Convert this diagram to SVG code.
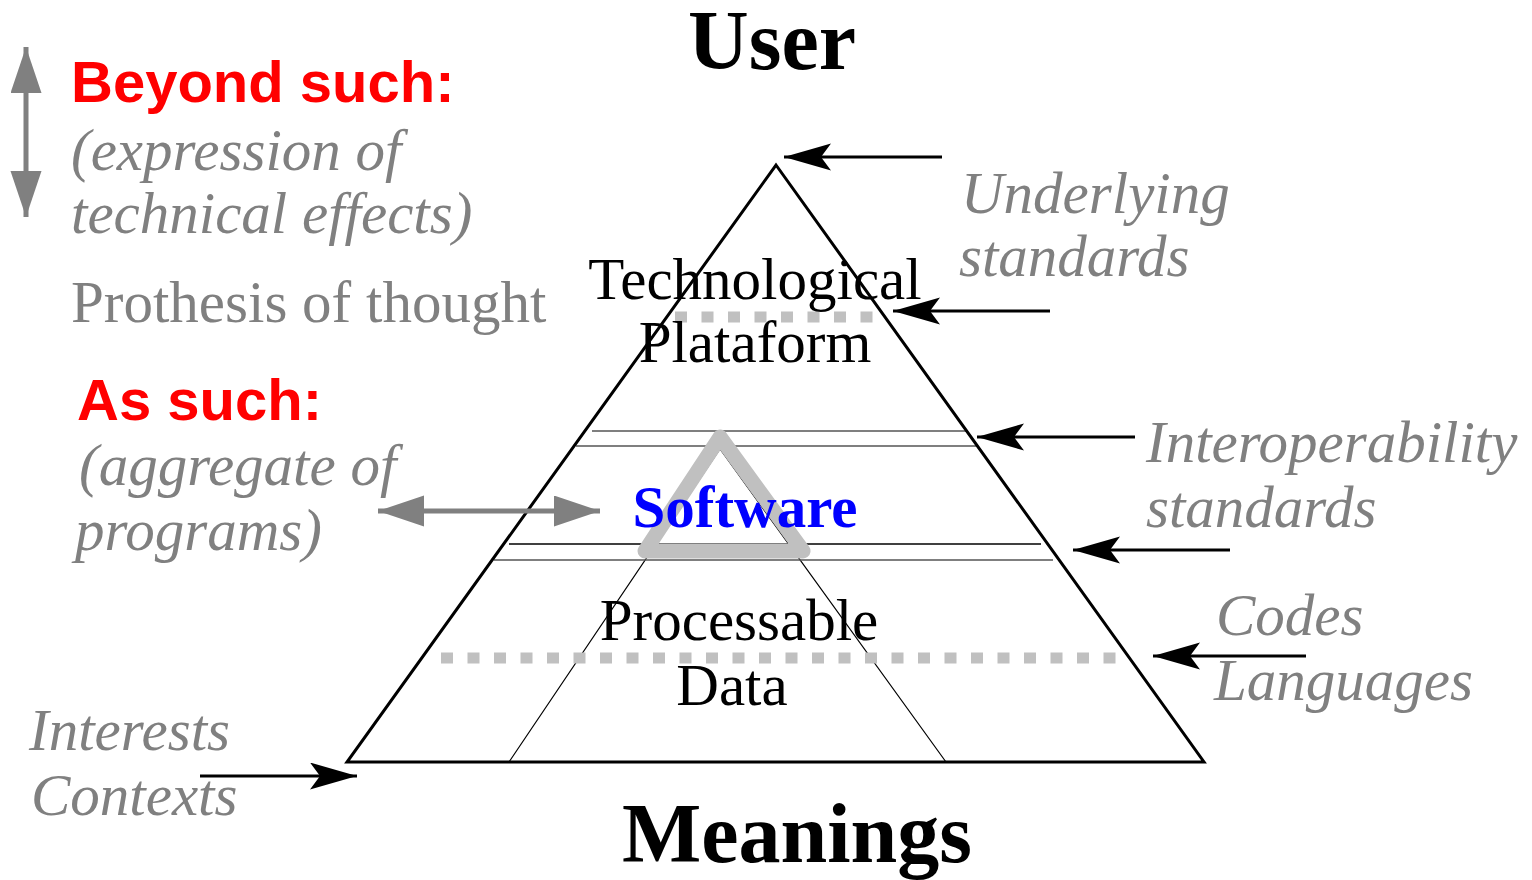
<svg xmlns="http://www.w3.org/2000/svg" width="1532" height="880" viewBox="0 0 1532 880">
<style>
.t{font-family:"Liberation Serif","Times New Roman",serif;font-size:59px}
.it{font-family:"Liberation Serif","Times New Roman",serif;font-size:59px;font-style:italic;fill:#808080}
.gr{fill:#808080}
.red{font-family:"Liberation Sans",Arial,sans-serif;font-size:58px;font-weight:bold;fill:#ff0000}
.big{font-family:"Liberation Serif","Times New Roman",serif;font-size:84px;font-weight:bold;fill:#000}
.arr{stroke:#000;stroke-width:3;fill:none;marker-end:url(#bh)}
.garr{stroke:#808080;stroke-width:5;fill:none;marker-end:url(#gh);marker-start:url(#gh)}
.dot{stroke:#c0c0c0;stroke-width:11;stroke-dasharray:12 14.5;fill:none}
</style>
<defs>
<marker id="bh" markerUnits="userSpaceOnUse" markerWidth="48" markerHeight="28" viewBox="0 0 48 28" refX="47" refY="13.5" orient="auto">
<path d="M0,0 L47,13.5 L0,27 L10,13.5 Z" fill="#000"/>
</marker>
<marker id="gh" markerUnits="userSpaceOnUse" markerWidth="47" markerHeight="32" viewBox="0 0 47 32" refX="46" refY="15.5" orient="auto-start-reverse">
<path d="M0,0 L46,15.5 L0,31 Z" fill="#808080"/>
</marker>
</defs>

<g id="pyramid">
<path d="M720,449 L509,762 M720,449 L946,762" stroke="#000" stroke-width="1.2" fill="none"/>
<path d="M592,431 H966 M576,446 H977" stroke="#555" stroke-width="1.5"/>
<path d="M509,544 H1041" stroke="#000" stroke-width="1.5"/>
<path d="M494,560 H1053" stroke="#555" stroke-width="1.5"/>
<polygon points="776,165 1204,762 347,762" fill="none" stroke="#000" stroke-width="3"/>
<path class="dot" d="M675,317 H875"/>
<path class="dot" d="M441,658 H1116"/>
<polygon points="720,437 803,551 645,551" fill="none" stroke="#c0c0c0" stroke-width="15" stroke-linejoin="round"/>
</g>

<g id="layer-labels">
<text class="t" x="755" y="299" text-anchor="middle">Technological</text>
<text class="t" x="755" y="362" text-anchor="middle">Plataform</text>
<text class="t" x="745" y="527" text-anchor="middle" font-weight="bold" fill="#0000ff">Software</text>
<text class="t" x="739" y="640" text-anchor="middle">Processable</text>
<text class="t" x="732" y="705" text-anchor="middle">Data</text>
</g>

<g id="titles">
<text class="big" x="772" y="69" text-anchor="middle">User</text>
<text class="big" x="797" y="862" text-anchor="middle">Meanings</text>
</g>

<g id="left-notes">
<text class="red" x="71" y="102">Beyond such:</text>
<text class="it" x="71" y="170">(expression of</text>
<text class="it" x="71" y="233">technical effects)</text>
<text class="t gr" x="71" y="322">Prothesis of thought</text>
<text class="red" x="77" y="420">As such:</text>
<text class="it" x="79" y="485">(aggregate of</text>
<text class="it" x="75" y="550">programs)</text>
<text class="it" x="29" y="750">Interests</text>
<text class="it" x="31" y="815">Contexts</text>
</g>

<g id="right-notes">
<text class="it" x="961" y="213">Underlying</text>
<text class="it" x="959" y="276">standards</text>
<text class="it" x="1146" y="462">Interoperability</text>
<text class="it" x="1146" y="527">standards</text>
<text class="it" x="1216" y="635">Codes</text>
<text class="it" x="1214" y="700">Languages</text>
</g>

<g id="connectors">
<path class="arr" d="M942,157 H784"/>
<path class="arr" d="M1050,311 H893"/>
<path class="arr" d="M1135,437 H977"/>
<path class="arr" d="M1230,550 H1073"/>
<path class="arr" d="M1306,656 H1153"/>
<path class="arr" d="M200,776 H357"/>
<path class="garr" d="M26,217 V47"/>
<path class="garr" d="M378,511 H600"/>
</g>
</svg>
